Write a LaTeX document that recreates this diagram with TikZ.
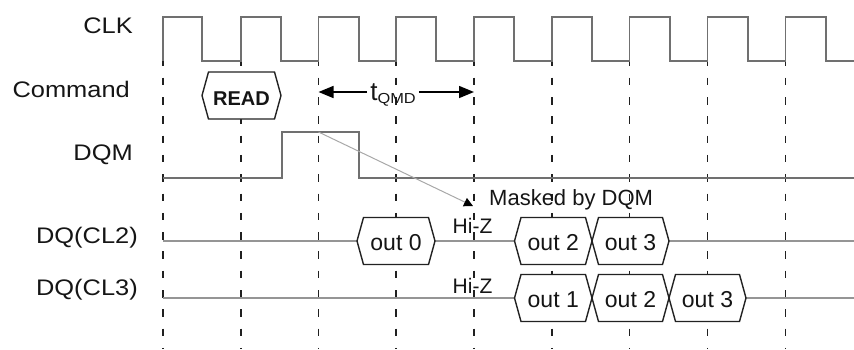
\documentclass[tikz,border=0pt]{standalone}
\usepackage{fontspec}
\setmainfont{Liberation Sans}
\newfontfamily\lblfont{Liberation Sans}[FakeStretch=1.13]
\usetikzlibrary{arrows.meta}
\definecolor{wavec}{HTML}{707070}
\definecolor{dqc}{HTML}{959595}
\definecolor{gridc}{HTML}{202020}
\definecolor{hexc}{HTML}{222222}
\definecolor{diagc}{HTML}{A8A8A8}
\definecolor{txtc}{HTML}{151515}
\newcommand{\hexbus}[6]{%
  \draw[hexbox] (#2,#4) -- (#2+6.5,#4-23.5) -- (#3-6.5,#4-23.5) -- (#3,#4)
    -- (#3-6.5,#4+23.5) -- (#2+6.5,#4+23.5) -- cycle;
  \node[#5] (#1) at ({(#2+#3)/2},#4+9.5) {#6};}
\begin{document}
\begin{tikzpicture}[x=1pt,y=-1pt,
  wave/.style={draw=wavec,line width=1.3pt},
  dqline/.style={draw=dqc,line width=1.3pt},
  gridline/.style={draw=gridc,line width=1.5pt,dash pattern=on 7.5pt off 11.8pt,dash phase=2.6pt},
  hexbox/.style={draw=hexc,line width=1.4pt,fill=white,line join=miter},
  lbl/.style={anchor=base east,font=\lblfont\fontsize{22.5}{22.5}\selectfont,text=txtc,inner sep=0pt},
  outtxt/.style={anchor=base,font=\fontsize{23}{23}\selectfont,text=txtc,inner sep=0pt},
  readtxt/.style={anchor=base,font=\bfseries\fontsize{20}{20}\selectfont,text=txtc,inner sep=0pt},
  smalltxt/.style={anchor=base west,font=\fontsize{21}{21}\selectfont,text=txtc,inner sep=0pt},
  tarrow/.style={draw=black,line width=1.5pt,-{Triangle[length=15pt,width=12pt]}},
  maskarrow/.style={draw=diagc,line width=1pt,-{Triangle[length=9pt,width=9pt,color=black]}}]
\useasboundingbox (0,0) rectangle (854,349);
% grid lines at rising edges
\foreach \x in {163,241,318.5,396,474,552,629.5,707.5,785.5}
  \draw[gridline] (\x,61) -- (\x,349);
% CLK
\draw[wave] (163,61) -- (163,17) -- (202,17) -- (202,61) -- (241,61) -- (241,17)
  -- (281,17) -- (281,61) -- (318.5,61) -- (318.5,17) -- (359,17) -- (359,61)
  -- (396,61) -- (396,17) -- (436,17) -- (436,61) -- (474,61) -- (474,17)
  -- (514,17) -- (514,61) -- (552,61) -- (552,17) -- (592,17) -- (592,61)
  -- (629.5,61) -- (629.5,17) -- (670,17) -- (670,61) -- (707.5,61) -- (707.5,17)
  -- (748,17) -- (748,61) -- (785.5,61) -- (785.5,17) -- (826,17) -- (826,61) -- (854,61);
% DQM
\draw[wave] (163,178) -- (282,178) -- (282,132) -- (359,132) -- (359,178) -- (854,178);
% DQ lines
\draw[dqline] (163,241) -- (854,241);
\draw[dqline] (163,298) -- (854,298);
% labels
\node[lbl] (lclk) at (133,33.3) {CLK};
\node[lbl] (lcmd) at (130,97) {Command};
\node[lbl] (ldqm) at (133,160) {DQM};
\node[lbl] (ldq2) at (138,243) {DQ(CL2)};
\node[lbl] (ldq3) at (138,295) {DQ(CL3)};
% command
\hexbus{read}{202}{281}{95.5}{readtxt}{READ}
% tQMD
\coordinate (tq1) at (318.5,92);
\coordinate (tq2) at (474,92);
\node[anchor=base,inner sep=3pt,text=txtc] (tqmd) at (393,100)
  {\fontsize{26}{26}\selectfont t\raisebox{-3pt}{\lblfont\fontsize{14.5}{14.5}\selectfont QMD}};
\draw[tarrow] (tqmd.west |- tq1) -- (tq1);
\draw[tarrow] (tqmd.east |- tq2) -- (tq2);
% masked arrow
\coordinate (dqmpt) at (318.5,132);
\coordinate (maskT) at (473,206);
\draw[maskarrow] (dqmpt) -- (maskT);
\node[anchor=base west,font=\fontsize{22}{22}\selectfont,text=txtc,inner sep=0pt] (mask) at (489,205) {Masked by DQM};
% Hi-Z
\node[smalltxt] (hiz2) at (452.5,233) {Hi-Z};
\node[smalltxt] (hiz3) at (452.5,293) {Hi-Z};
% DQ(CL2) data
\hexbus{o0}{357}{435}{241}{outtxt}{out 0}
\hexbus{o2a}{514.5}{592}{241}{outtxt}{out 2}
\hexbus{o3a}{592}{669}{241}{outtxt}{out 3}
% DQ(CL3) data
\hexbus{o1b}{514.5}{592}{298}{outtxt}{out 1}
\hexbus{o2b}{592}{669}{298}{outtxt}{out 2}
\hexbus{o3b}{669}{746}{298}{outtxt}{out 3}
\end{tikzpicture}
\end{document}
